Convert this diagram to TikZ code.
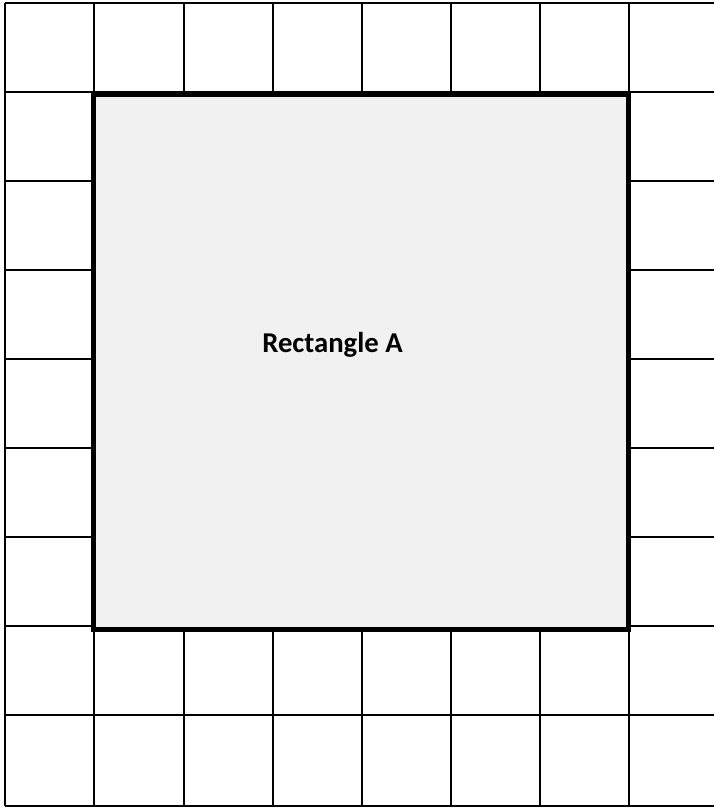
\documentclass[tikz,border=0pt]{standalone}
\usepackage{fontspec}
\setmainfont{Carlito}
\definecolor{boxfill}{HTML}{F1F1F1}
\tikzset{
  gridline/.style={line width=2pt, black},
  bigbox/.style={draw=black, line width=5pt, fill=boxfill, inner sep=0pt, outer sep=0pt, minimum width=535pt, minimum height=535pt},
  boxlabel/.style={font=\fontsize{28.7}{34}\selectfont\bfseries, inner sep=0pt}
}
\begin{document}
\begin{tikzpicture}[x=1pt, y=-1pt]
\useasboundingbox (0,0) rectangle (713,808);
\fill[white] (0,0) rectangle (713,808);
% grid
\foreach \i in {0,...,7} {
  \draw[gridline] ({5.3+89.1*\i},3) -- ({5.3+89.1*\i},806);
}
\foreach \yy in {3,92.04,181.08,270.12,359.16,448.2,537.24,626.28,715.3,806} {
  \draw[gridline] (5.3,\yy) -- (714,\yy);
}
% rectangle A
\node[bigbox, anchor=north west] (A) at (93.5,94) {};
\node[boxlabel, anchor=base] (lbl) at (332.5,352) {Rectangle A};
\end{tikzpicture}
\end{document}
